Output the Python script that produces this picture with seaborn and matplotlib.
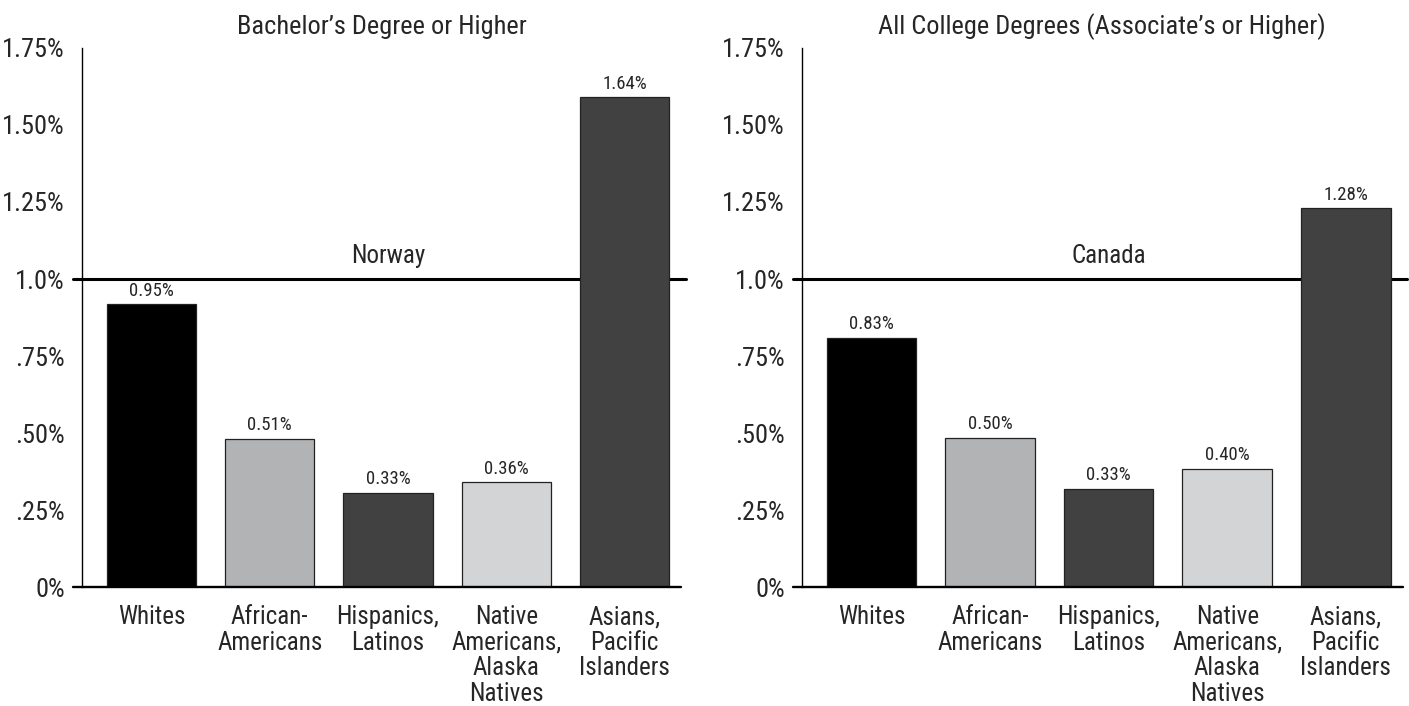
import matplotlib
matplotlib.use("Agg")
import matplotlib.pyplot as plt
import seaborn as sns
from matplotlib import font_manager

# ==========================================
# data
# ==========================================
groups = ["Whites", "African-\nAmericans", "Hispanics,\nLatinos",
          "Native\nAmericans,\nAlaska\nNatives", "Asians,\nPacific\nIslanders"]
bar_colors = ["#000000", "#b1b3b5", "#414141", "#d3d4d5", "#414141"]

# bar heights as drawn, and the printed labels
bachelor_heights = [0.918, 0.482, 0.307, 0.341, 1.59]
bachelor_labels = [0.95, 0.51, 0.33, 0.36, 1.64]
college_heights = [0.81, 0.486, 0.32, 0.385, 1.229]
college_labels = [0.83, 0.50, 0.33, 0.40, 1.28]

panel_titles = ["Bachelor\u2019s Degree or Higher",
                "All College Degrees (Associate\u2019s or Higher)"]
ref_names = ["Norway", "Canada"]
ref_level = 1.0

y_ticks = [0, 0.25, 0.5, 0.75, 1.0, 1.25, 1.5, 1.75]
y_tick_labels = ["0%", ".25%", ".50%", ".75%", "1.0%", "1.25%", "1.50%", "1.75%"]

# ==========================================
# font
# ==========================================
sns.set_style("white")
available = {f.name for f in font_manager.fontManager.ttflist}
FONT = "DejaVu Sans"
for name in ["Liberation Sans Narrow", "Roboto Condensed", "Open Sans Condensed"]:
    if name in available:
        FONT = name
        break
plt.rcParams["font.family"] = [FONT, "DejaVu Sans"]

# ==========================================
# plot
# ==========================================
fig = plt.figure(figsize=(14.09, 7.06), dpi=100)
axes = [fig.add_axes([0.058, 0.168, 0.4255, 0.7643]),
        fig.add_axes([0.569, 0.168, 0.4265, 0.7643])]

panels = [(bachelor_heights, bachelor_labels), (college_heights, college_labels)]

for ax, (heights, labels), title, ref in zip(axes, panels, panel_titles, ref_names):
    sns.barplot(x=groups, y=heights, hue=groups, palette=bar_colors, legend=False,
                width=0.755, edgecolor="#222222", linewidth=0.9, ax=ax, zorder=3)

    ax.set_xlim(-0.59, 4.48)
    ax.set_ylim(0, 1.75)
    ax.set_yticks(y_ticks)
    ax.set_yticklabels(y_tick_labels, fontsize=19)
    ax.tick_params(axis="y", length=6, width=1.0, color="#666666", pad=6)
    ax.tick_params(axis="x", length=0, pad=13, labelsize=18)
    for lbl in ax.get_xticklabels():
        lbl.set_linespacing(1.08)
        lbl.set_va("top")

    for s in ["top", "right", "bottom"]:
        ax.spines[s].set_visible(False)
    ax.spines["left"].set_linewidth(1.0)
    ax.spines["left"].set_color("black")

    # baseline and reference line
    ax.axhline(0, xmin=-0.015, xmax=1.0, color="black", lw=1.7, clip_on=False, zorder=4)
    ax.axhline(ref_level, xmin=-0.015, xmax=1.008, color="black", lw=2.2,
               clip_on=False, zorder=2)
    ax.text(2, ref_level + 0.035, ref, ha="center", va="bottom", fontsize=18)

    for i, (h, v) in enumerate(zip(heights, labels)):
        ax.text(i, h + 0.015, f"{v:.2f}%", ha="center", va="bottom", fontsize=13.5)

    ax.set_title(title, fontsize=19, pad=10)
    ax.set_xlabel("")
    ax.set_ylabel("")

fig.savefig("out.png", dpi=100)
